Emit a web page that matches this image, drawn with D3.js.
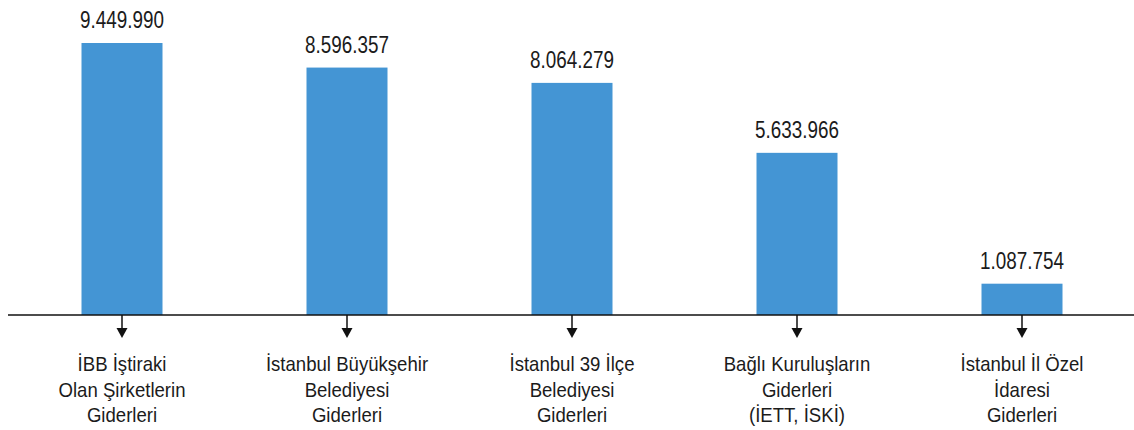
<!DOCTYPE html>
<html>
<head>
<meta charset="utf-8">
<script src="https://cdn.jsdelivr.net/npm/d3@7"></script>
<style>
  body { margin: 0; background: #fff; }
  svg text { font-family: 'Liberation Sans', Arial, sans-serif; fill: #1b1b1b; }
</style>
</head>
<body>
<div class="bar-chart"></div>
<script>
const categories = [
  ['İBB İştiraki', 'Olan Şirketlerin', 'Giderleri'],
  ['İstanbul Büyükşehir', 'Belediyesi', 'Giderleri'],
  ['İstanbul 39 İlçe', 'Belediyesi', 'Giderleri'],
  ['Bağlı Kuruluşların', 'Giderleri', '(İETT, İSKİ)'],
  ['İstanbul İl Özel', 'İdaresi', 'Giderleri'],
];
const values = [9449990, 8596357, 8064279, 5633966, 1087754];

const containerWidth = 1134;
const containerHeight = 430;
const baseline = 315;

const svg = d3
  .select('.bar-chart')
  .append('svg')
  .attr('width', containerWidth)
  .attr('height', containerHeight);

const xScale = d3
  .scaleBand()
  .domain(d3.range(values.length))
  .range([9.5, 1134.5])
  .paddingInner(0.64)
  .paddingOuter(0.32);

const yScale = d3.scaleLinear().domain([0, d3.max(values)]).range([baseline, 43]);

const fmt = (v) => d3.format(',')(v).replace(/,/g, '.');
const cx = (i) => xScale(i) + xScale.bandwidth() / 2;

svg
  .append('g')
  .selectAll('rect')
  .data(values)
  .enter()
  .append('rect')
  .attr('x', (d, i) => xScale(i))
  .attr('y', (d) => yScale(d))
  .attr('width', xScale.bandwidth())
  .attr('height', (d) => baseline - yScale(d))
  .attr('fill', '#4495d4');

// value labels (condensed look via horizontal scale)
svg
  .append('g')
  .selectAll('text')
  .data(values)
  .enter()
  .append('text')
  .attr('transform', (d, i) => `translate(${cx(i)}, ${yScale(d) - 15}) scale(0.82, 1)`)
  .attr('text-anchor', 'middle')
  .style('font-size', '23px')
  .text(fmt);

// axis line
svg
  .append('line')
  .attr('x1', 8)
  .attr('x2', containerWidth)
  .attr('y1', baseline)
  .attr('y2', baseline)
  .attr('stroke', '#111')
  .attr('stroke-width', 1.6);

const labels = svg
  .append('g')
  .selectAll('g')
  .data(categories)
  .enter()
  .append('g')
  .attr('transform', (d, i) => `translate(${cx(i)}, 0)`);

labels
  .append('line')
  .attr('x1', 0)
  .attr('x2', 0)
  .attr('y1', baseline)
  .attr('y2', 330)
  .attr('stroke', '#111')
  .attr('stroke-width', 1.5);

labels
  .append('path')
  .attr('d', 'M-5.5,328 L5.5,328 L0,338 Z')
  .attr('fill', '#111');

labels
  .selectAll('text')
  .data((d) => d)
  .enter()
  .append('text')
  .attr('transform', (d, j) => `translate(0, ${371 + j * 25.7}) scale(0.93, 1)`)
  .attr('text-anchor', 'middle')
  .style('font-size', '20px')
  .text((d) => d);
</script>
</body>
</html>
